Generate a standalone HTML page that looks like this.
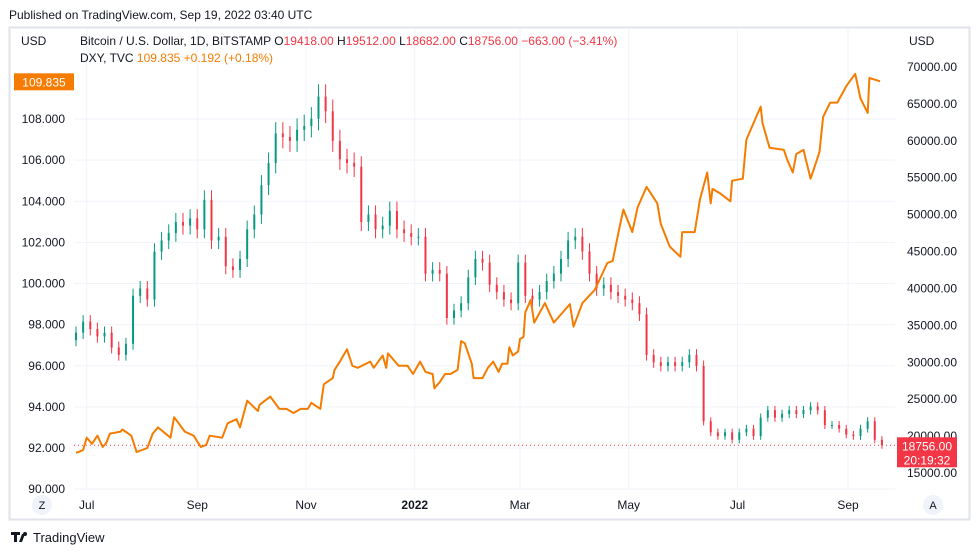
<!DOCTYPE html>
<html><head><meta charset="utf-8"><style>
body{margin:0;background:#fff;font-family:"Liberation Sans",sans-serif;}
svg text{font-family:"Liberation Sans",sans-serif;}
</style></head><body>
<svg id="chart" width="979" height="555" viewBox="0 0 979 555" xmlns="http://www.w3.org/2000/svg">
<text x="9" y="19" font-size="12" fill="#131722">Published on TradingView.com, Sep 19, 2022 03:40 UTC</text>
<rect x="9.5" y="27.5" width="960" height="492" fill="#fff" stroke="#e0e3eb" stroke-width="2"/>
<g id="grid"></g>
<g id="marks"></g>
<g id="axes"></g>
<text x="21" y="45" font-size="12" fill="#131722">USD</text>
<text x="909" y="45" font-size="12" fill="#131722">USD</text>
<text x="80" y="45" font-size="12" fill="#131722">Bitcoin / U.S. Dollar, 1D, BITSTAMP <tspan>O</tspan><tspan fill="#f23645">19418.00</tspan> <tspan>H</tspan><tspan fill="#f23645">19512.00</tspan> <tspan>L</tspan><tspan fill="#f23645">18682.00</tspan> <tspan>C</tspan><tspan fill="#f23645">18756.00</tspan> <tspan fill="#f23645">−663.00 (−3.41%)</tspan></text>
<text x="80" y="62" font-size="12" fill="#131722">DXY, TVC <tspan fill="#f57c00">109.835 +0.192 (+0.18%)</tspan></text>
<circle cx="42" cy="505" r="10" fill="#f0f3fa"/>
<text x="42" y="509" font-size="11" text-anchor="middle" fill="#131722">Z</text>
<circle cx="933" cy="505" r="10" fill="#f0f3fa"/>
<text x="933" y="509" font-size="11" text-anchor="middle" fill="#131722">A</text>
<g>
<path d="M11 532h9v3h-3v7h-3v-7h-3z M22 534l3 0 -3 8h-3z" fill="#131722"/>
<circle cx="25" cy="534" r="2" fill="#131722"/>
<text x="33" y="542" font-size="13" fill="#131722">TradingView</text></g>
</svg>
<script>
const btcCloses=[34000,35500,34500,33500,34000,32000,31000,32500,39000,40000,38500,45000,46500,47500,49000,48500,49500,48000,52000,46500,47000,43000,42500,44000,48000,50000,54000,57000,61000,60500,60000,61500,62000,63000,66000,64000,60000,57500,57000,56500,49000,50000,48000,48500,50500,48000,47500,47000,47000,42000,42500,42000,36000,37000,38000,41500,44000,43500,40500,39500,38500,38000,43500,39000,38500,39500,41000,42000,44000,46500,47000,45000,42000,40000,40500,39500,39000,38500,38000,36500,31000,30000,29500,30000,29500,30000,31000,29500,22000,20500,20000,20500,19500,20500,21000,20000,22500,23500,22500,23000,23500,23000,23500,24000,23500,21500,21500,21000,20200,20000,21000,22000,19500,18756];
const btcFirstOpen=33000;
const dxyDays=[0,4,6,9,12,15,17,19,25,26,31,34,40,43,46,53,55,61,66,70,73,75,82,85,90,92,96,102,103,109,114,118,122,126,130,132,137,139,144,145,148,152,155,158,165,167,172,174,175,181,186,189,193,196,200,201,204,207,210,214,216,218,222,223,228,231,234,237,239,242,243,245,248,249,251,252,255,257,263,268,271,277,279,284,291,298,301,305,307,312,315,320,326,328,333,339,340,347,350,354,356,357,361,367,368,374,376,382,384,385,389,397,399,402,404,408,412,417,419,423,427,432,437,440,444,445,451];
const dxyValues=[91.76,91.9,92.5,92.2,92.6,92.05,92.25,92.7,92.8,92.9,92.6,91.8,92.0,92.7,93.0,92.5,93.5,92.8,92.6,92.05,92.15,92.6,92.5,93.2,93.4,93.0,94.3,93.8,94.1,94.5,93.9,93.9,93.7,93.9,93.9,94.2,93.9,95.1,95.4,95.8,96.2,96.8,96.0,95.9,96.2,95.9,96.5,95.9,96.6,96.0,96.0,95.6,96.2,95.7,95.6,94.9,95.2,95.6,95.6,95.8,97.2,97.1,96.1,95.4,95.4,95.9,96.2,95.7,96.1,96.1,96.9,96.5,96.7,97.3,97.4,98.6,99.2,98.1,99.05,98.1,98.4,99.0,97.9,99.05,99.7,101.0,101.1,102.8,103.6,102.5,103.7,104.7,103.9,102.9,101.8,101.3,102.5,102.5,104.1,105.4,103.9,104.6,104.4,104.0,105.0,105.1,107.0,108.2,108.6,107.8,106.6,106.5,106.0,105.4,106.3,106.5,105.1,106.4,108.1,108.8,108.8,109.6,110.2,109.0,108.3,110.0,109.835];
const leftTicks=[90,92,94,96,98,100,102,104,106,108];
const rightTicks=[15000,20000,25000,30000,35000,40000,45000,50000,55000,60000,65000,70000];
const monthLabels=["Jul","Sep","Nov","2022","Mar","May","Jul","Sep"];
const monthDays=[6,68,129,190,249,310,371,433];
const btcDayStep=4;
const lastBtc=18756, lastDxy=109.835;

const NS="http://www.w3.org/2000/svg";
const xDay=d=>76+d*1.783;
const yDxy=v=>448-(v-92)*20.56;
const yBtc=v=>473-(v-15000)*0.007382;
function mk(tag,attrs,parent,txt){const e=document.createElementNS(NS,tag);for(const k in attrs)e.setAttribute(k,attrs[k]);if(txt!==undefined)e.textContent=txt;parent.appendChild(e);return e;}
const grid=document.getElementById('grid'),marks=document.getElementById('marks'),axes=document.getElementById('axes');
leftTicks.forEach(t=>{const y=yDxy(t);
 const g=mk('line',{x1:74,x2:895,y1:y,y2:y,stroke:'#f0f3fa','stroke-width':1},grid);
 
 
 const l=mk('text',{x:65,y:y+4,'font-size':12,'text-anchor':'end',fill:'#131722'},axes,t.toFixed(3));
 
 });
rightTicks.forEach(t=>{const y=yBtc(t);
 const l=mk('text',{x:932,y:y+4,'font-size':12,'text-anchor':'middle',fill:'#131722'},axes,t.toFixed(2));
 
 });
monthLabels.forEach((m,i)=>{const x=xDay(monthDays[i]);
 const g=mk('line',{x1:x,x2:x,y1:28,y2:490,stroke:'#f0f3fa','stroke-width':1},grid);
 
 
 const l=mk('text',{x:x,y:509,'font-size':12,'text-anchor':'middle',fill:'#131722','font-weight':m==='2022'?'bold':'normal'},axes,m);
 
 });
btcCloses.forEach((c,i)=>{const o=i===0?btcFirstOpen:btcCloses[i-1];const x=xDay(i*btcDayStep);
 const up=c>=o,col=up?'#089981':'#f23645';
 const hi=Math.max(o,c)*1.025,lo=Math.min(o,c)*0.975;
 const w=mk('line',{x1:x,x2:x,y1:yBtc(hi),y2:yBtc(lo),stroke:col,'stroke-width':1},marks);
 
 
 const yt=yBtc(Math.max(o,c)),yb=yBtc(Math.min(o,c));
 const b=mk('rect',{x:x-1,y:yt,width:2,height:Math.max(1,yb-yt),fill:col},marks);
 
 });
const pts=dxyDays.map((d,i)=>xDay(d).toFixed(1)+','+yDxy(dxyValues[i]).toFixed(1)).join(' ');
const pl=mk('polyline',{points:pts,fill:'none',stroke:'#f57c00','stroke-width':2,'stroke-linejoin':'round'},marks);


const ly=yBtc(lastBtc);
const dl=mk('line',{x1:74,x2:895,y1:ly,y2:ly,stroke:'#f23645','stroke-width':1,'stroke-dasharray':'1,3'},marks);


const rb=mk('rect',{x:897,y:ly-8,width:60,height:30,fill:'#f23645'},axes);


mk('text',{x:927,y:ly+5,'font-size':12,'text-anchor':'middle',fill:'#fff'},axes,lastBtc.toFixed(2));
mk('text',{x:927,y:ly+19,'font-size':12,'text-anchor':'middle',fill:'#fff'},axes,'20:19:32');
const oy=yDxy(lastDxy);
const ob=mk('rect',{x:14,y:oy-8,width:60,height:17,fill:'#f57c00'},axes);


mk('text',{x:44,y:oy+5,'font-size':12,'text-anchor':'middle',fill:'#fff'},axes,lastDxy.toFixed(3));
</script>
</body></html>
